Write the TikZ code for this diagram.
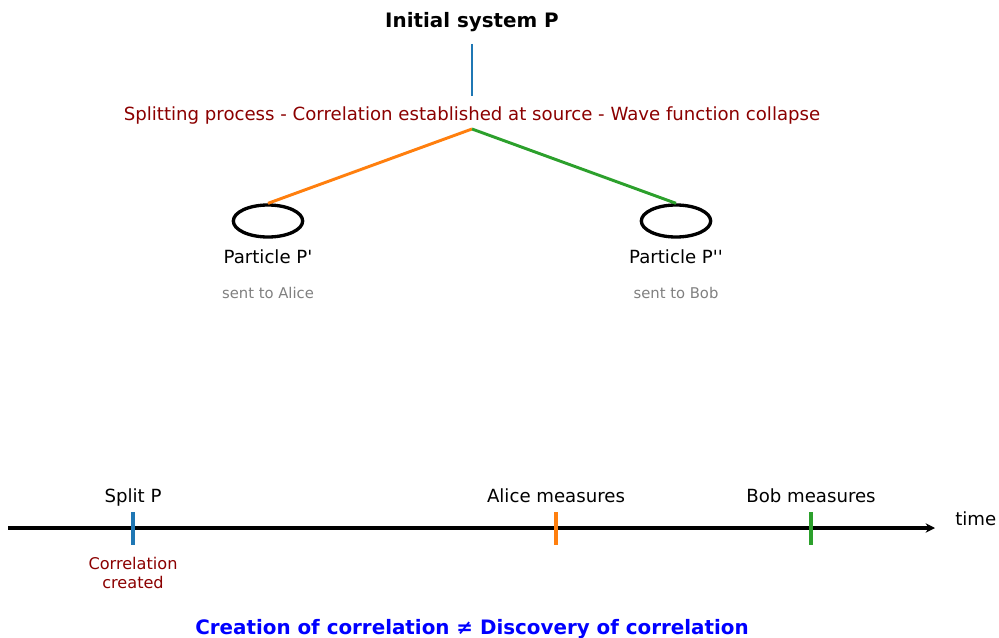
\documentclass[tikz,border=0pt]{standalone}
\usepackage{fontspec}
\setmainfont{DejaVu Sans}
\usetikzlibrary{positioning}
\usetikzlibrary{shapes.geometric}
\usetikzlibrary{arrows.meta}
\definecolor{tabblue}{HTML}{1F77B4}
\definecolor{taborange}{HTML}{FF7F0E}
\definecolor{tabgreen}{HTML}{2CA02C}
\definecolor{darkred}{HTML}{8B0000}
\definecolor{puregreyish}{HTML}{808080}

\begin{document}
\begin{tikzpicture}[x=0.75pt,y=-0.75pt,
    title/.style={font=\fontsize{14.9}{17}\selectfont\bfseries},
    lbl/.style={font=\fontsize{13.6}{16}\selectfont},
    note/.style={font=\fontsize{11.1}{13}\selectfont, text=puregreyish},
    particle/.style={draw, ellipse, line width=2.5pt, minimum width=52pt, minimum height=24pt, inner sep=0pt},
    branch/.style={line width=2.2pt},
    tick/.style={line width=2.4pt}]
        \useasboundingbox (0,0) rectangle (999,638);
        % source and splitting
        \node[title] (init) at (472,22) {Initial system P};
        \coordinate (src) at (472,44);
        \coordinate (spl) at (472,96);
        \draw[tabblue,branch] (src) -- (spl);
        \node[text=darkred,font=\fontsize{13.6}{16}\selectfont] (proc) at (472,115) {Splitting process - Correlation established at source - Wave function collapse};
        \coordinate (fork) at (472,129);
        % the two particles
        \node[particle] (pA) at (268,221) {};
        \node[particle] (pB) at (676,221) {};
        \draw[taborange,branch] (fork) -- (pA.north);
        \draw[tabgreen,branch] (fork) -- (pB.north);
        \node[lbl] (labA) at (268,257) {Particle P\textquotesingle};
        \node[lbl] (labB) at (676,257) {Particle P\textquotesingle\textquotesingle};
        \node[note] (toA) at (268,293) {sent to Alice};
        \node[note] (toB) at (676,293) {sent to Bob};
        % timeline
        \coordinate (t0) at (8,528);
        \coordinate (t1) at (935,528);
        \draw[line width=2.3pt,-{Stealth[length=7pt,width=7pt]}] (t0) -- (t1);
        \node[lbl,anchor=west,inner sep=0pt] (time) at (955,519) {time};
        \coordinate (sTop) at (133,512);
        \coordinate (sBot) at (133,545);
        \coordinate (aTop) at (556,512);
        \coordinate (aBot) at (556,545);
        \coordinate (bTop) at (811,512);
        \coordinate (bBot) at (811,545);
        \draw[tabblue,tick] (sTop) -- (sBot);
        \draw[taborange,tick] (aTop) -- (aBot);
        \draw[tabgreen,tick] (bTop) -- (bBot);
        \node[lbl] (split) at (133,497) {Split P};
        \node[lbl] (alice) at (556,496) {Alice measures};
        \node[lbl] (bob) at (811,496) {Bob measures};
        \node[font=\fontsize{12.1}{14.6}\selectfont,text=darkred,align=center] (made) at (133,573) {Correlation\\created};
        % conclusion
        \node[title,text=blue] (concl) at (472,629) {Creation of correlation ≠ Discovery of correlation};
    \end{tikzpicture}
\end{document}
